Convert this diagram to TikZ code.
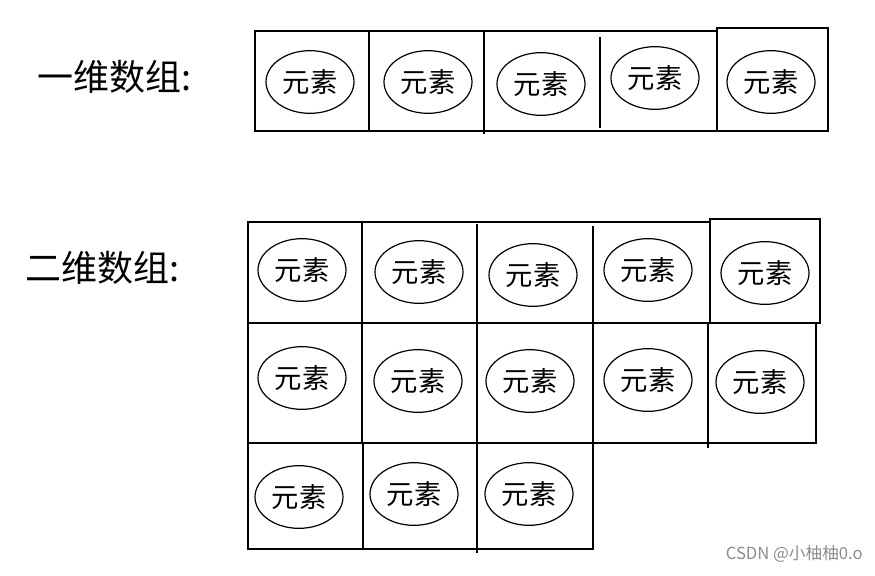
\documentclass[tikz,border=0pt]{standalone}
\usepackage{fontspec}
\usetikzlibrary{shapes.geometric}
\newfontfamily\cjk{Noto Sans CJK SC}
\tikzset{
  cellline/.style={line width=1.5pt, draw=black},
  elem/.style={ellipse, draw=black, line width=0.9pt, minimum width=66pt, minimum height=47pt, inner sep=0pt, font=\cjk\fontsize{20.5}{20.5}\selectfont},
  title/.style={font=\cjk\fontsize{27}{27}\selectfont, anchor=west, inner sep=0pt},
  wmark/.style={font=\cjk\fontsize{12.5}{12.5}\selectfont, text=black!45, anchor=east, inner sep=0pt}
}
\begin{document}
\begin{tikzpicture}[x=0.75pt, y=-0.75pt]
\useasboundingbox (0,0) rectangle (875,575);
% labels
\node[title] (t1) at (37,77) {一维数组:};
\node[title] (t2) at (25,268) {二维数组:};
% ---- one-dimensional array ----
\draw[cellline] (255,31) rectangle (717,131);
\draw[cellline] (369,31) -- (369,131);
\draw[cellline] (484,31) -- (484,134);
\draw[cellline] (600,37) -- (600,128);
\draw[cellline] (717,28) rectangle (828,131);
\node[elem] (a1) at (310,82) {元素};
\node[elem] (a2) at (428,82) {元素};
\node[elem] (a3) at (541,84) {元素};
\node[elem] (a4) at (655,78) {元素};
\node[elem] (a5) at (771,82) {元素};
% ---- two-dimensional array ----
% row 1
\draw[cellline] (248,222) rectangle (710,323);
\draw[cellline] (362,222) -- (362,323);
\draw[cellline] (477,224) -- (477,323);
\draw[cellline] (593,226) -- (593,323);
\draw[cellline] (710,219) rectangle (820,323);
% row 2
\draw[cellline] (248,323) -- (248,443) -- (816,443) -- (816,323);
\draw[cellline] (362,323) -- (362,443);
\draw[cellline] (477,323) -- (477,443);
\draw[cellline] (593,323) -- (593,448);
\draw[cellline] (708,323) -- (708,448);
% row 3
\draw[cellline] (248,443) -- (248,549) -- (593,549) -- (593,443);
\draw[cellline] (363,443) -- (363,549);
\draw[cellline] (477,443) -- (477,553);
\node[elem] (b11) at (302,270) {元素};
\node[elem] (b12) at (419,272) {元素};
\node[elem] (b13) at (533,275) {元素};
\node[elem] (b14) at (648,270) {元素};
\node[elem] (b15) at (765,273) {元素};
\node[elem] (b21) at (302,378) {元素};
\node[elem] (b22) at (418,381) {元素};
\node[elem] (b23) at (530,381) {元素};
\node[elem] (b24) at (648,380) {元素};
\node[elem] (b25) at (760,382) {元素};
\node[elem] (b31) at (299,497) {元素};
\node[elem] (b32) at (414,494) {元素};
\node[elem] (b33) at (529,494) {元素};
% watermark
\node[wmark] (wm) at (863,554) {CSDN @小柚柚0.o};
\end{tikzpicture}
\end{document}
